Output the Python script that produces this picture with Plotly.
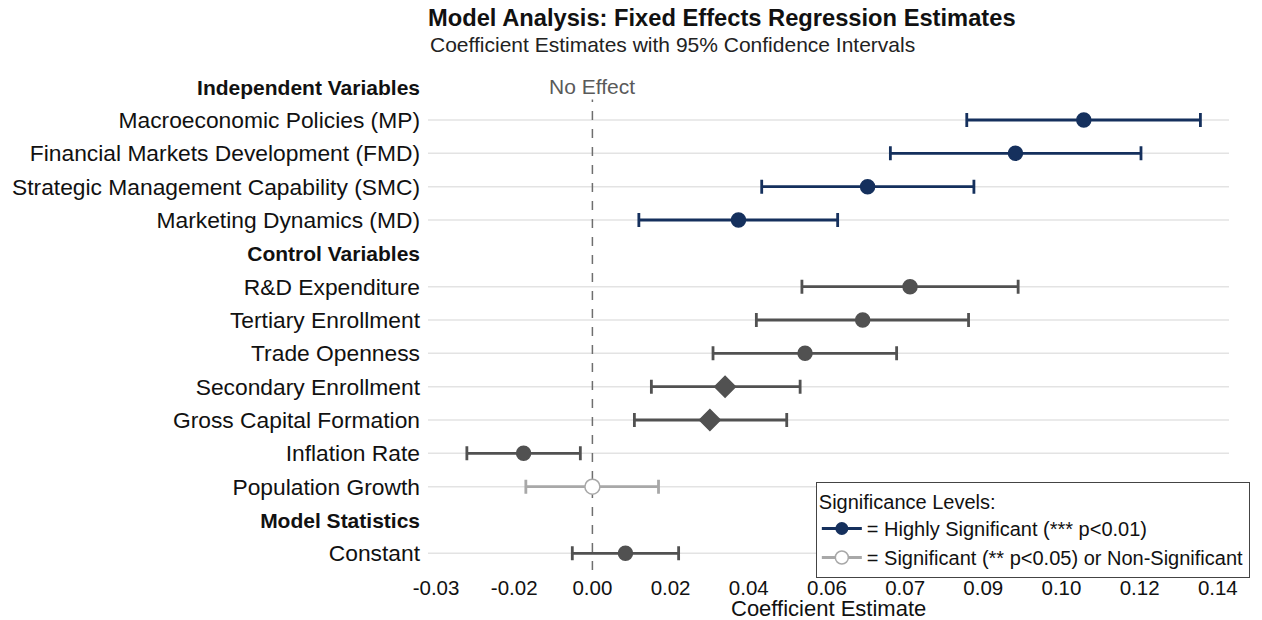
import plotly.graph_objects as go

# ---------------- data ----------------
categories = [
    "Independent Variables",
    "Macroeconomic Policies (MP)",
    "Financial Markets Development (FMD)",
    "Strategic Management Capability (SMC)",
    "Marketing Dynamics (MD)",
    "Control Variables",
    "R&D Expenditure",
    "Tertiary Enrollment",
    "Trade Openness",
    "Secondary Enrollment",
    "Gross Capital Formation",
    "Inflation Rate",
    "Population Growth",
    "Model Statistics",
    "Constant",
]
headers = ["Independent Variables", "Control Variables", "Model Statistics"]

variables = [
    "Macroeconomic Policies (MP)",
    "Financial Markets Development (FMD)",
    "Strategic Management Capability (SMC)",
    "Marketing Dynamics (MD)",
    "R&D Expenditure",
    "Tertiary Enrollment",
    "Trade Openness",
    "Secondary Enrollment",
    "Gross Capital Formation",
    "Inflation Rate",
    "Population Growth",
    "Constant",
]
estimates = [0.1100, 0.0947, 0.0616, 0.0327, 0.0711, 0.0605, 0.0476, 0.0297, 0.0263, -0.0154, 0.0000, 0.0074]
ci_low    = [0.0838, 0.0667, 0.0379, 0.0104, 0.0469, 0.0367, 0.0270, 0.0132, 0.0094, -0.0281, -0.0149, -0.0045]
ci_high   = [0.1361, 0.1228, 0.0854, 0.0549, 0.0953, 0.0842, 0.0681, 0.0465, 0.0435, -0.0027, 0.0148, 0.0193]
groups    = ["high", "high", "high", "high", "ctrl", "ctrl", "ctrl", "ctrl_d", "ctrl_d", "ctrl", "ns", "ctrl"]

tick_vals = [-0.035, -0.0175, 0.0, 0.0175, 0.035, 0.0525, 0.07, 0.0875, 0.105, 0.1225, 0.14]
tick_text = ["-0.03", "-0.02", "0.00", "0.02", "0.04", "0.06", "0.07", "0.09", "0.10", "0.12", "0.14"]

legend_high = "= Highly Significant (*** p<0.01)"
legend_ns = "= Significant (** p<0.05) or Non-Significant"

# ---------------- styles ----------------
NAVY = "#15305d"
DGRAY = "#515151"
LGRAY = "#a8a8a8"
FONT = "Liberation Sans, Arial, sans-serif"

styles = {
    "high":   dict(color=NAVY,  symbol="circle",  size=14, fill=NAVY),
    "ctrl":   dict(color=DGRAY, symbol="circle",  size=14, fill=DGRAY),
    "ctrl_d": dict(color=DGRAY, symbol="diamond", size=16, fill=DGRAY),
    "ns":     dict(color=LGRAY, symbol="circle",  size=15, fill="white"),
}

W, H = 1262, 620
L, R, T, B = 428, 12, 70, 50

fig = go.Figure()

# gridlines only for variable rows
for v in variables:
    fig.add_shape(type="line", xref="paper", x0=0, x1=1, yref="y", y0=v, y1=v,
                  line=dict(color="#e3e3e3", width=1.5), layer="below")

fig.add_vline(x=0, line_dash="dash", line_color="#6e6e6e", line_width=1.5, layer="below")

for g, st in styles.items():
    idx = [i for i, gg in enumerate(groups) if gg == g]
    xs = [estimates[i] for i in idx]
    ys = [variables[i] for i in idx]
    plus = [ci_high[i] - estimates[i] for i in idx]
    minus = [estimates[i] - ci_low[i] for i in idx]
    fig.add_trace(go.Scatter(
        x=xs, y=ys, mode="markers", showlegend=False,
        marker=dict(symbol=st["symbol"], size=st["size"], color=st["fill"],
                    line=dict(color=st["color"], width=1.5)),
        error_x=dict(type="data", symmetric=False, array=plus, arrayminus=minus,
                     color=st["color"], thickness=2.8, width=7),
    ))

# legend entries
fig.add_trace(go.Scatter(
    x=[None], y=[None], mode="lines+markers", name=legend_high,
    line=dict(color=NAVY, width=3),
    marker=dict(symbol="circle", size=13, color=NAVY),
))
fig.add_trace(go.Scatter(
    x=[None], y=[None], mode="lines+markers", name=legend_ns,
    line=dict(color=LGRAY, width=3),
    marker=dict(symbol="circle", size=13, color="white", line=dict(color=LGRAY, width=1.5)),
))

ticktext_y = [
    f"<b><span style='font-size:21px'>{c}</span></b>" if c in headers else c
    for c in categories
]

fig.add_annotation(x=0, y=categories[0], xref="x", yref="y", text="No Effect",
                   showarrow=False, font=dict(size=21, color="#5a5a5a", family=FONT),
                   bgcolor="white")

fig.add_annotation(x=0, y=(H - B - 45) / (H - T - B), xref="paper", yref="paper",
                   xanchor="left", yanchor="middle",
                   text="Coefficient Estimates with 95% Confidence Intervals",
                   showarrow=False, font=dict(size=21, color="#222", family=FONT))

# x axis title
fig.add_annotation(x=0.5, y=(H - B - 608) / (H - T - B), xref="paper", yref="paper",
                   xanchor="center", yanchor="middle", text="Coefficient Estimate",
                   showarrow=False, font=dict(size=22, color="#111", family=FONT))

fig.update_layout(
    width=W, height=H,
    paper_bgcolor="white", plot_bgcolor="white",
    font=dict(family=FONT, color="#111"),
    margin=dict(l=L, r=R, t=T, b=B),
    title=dict(text="<b>Model Analysis: Fixed Effects Regression Estimates</b>",
               x=L / W, xanchor="left", y=1 - 18 / H, yanchor="middle",
               font=dict(size=23.7, color="#111", family=FONT)),
    xaxis=dict(range=[-0.0368, 0.1425], tickvals=tick_vals, ticktext=tick_text,
               showgrid=False, zeroline=False, showline=False, ticks="",
               ticklabelstandoff=3,
               tickfont=dict(size=20.5, color="#111"),
               automargin=False),
    yaxis=dict(type="category", categoryorder="array", categoryarray=categories,
               tickvals=categories, ticktext=ticktext_y, autorange=False,
               range=[len(categories) - 0.5, -0.5],
               showgrid=False, zeroline=False, showline=False, ticks="",
               ticklabelstandoff=7,
               tickfont=dict(size=22.8, color="#111"), automargin=False),
    legend=dict(x=(826 - L) / (W - L - R), y=(H - B - 482) / (H - T - B), xanchor="left", yanchor="top",
                bgcolor="white", bordercolor="#444", borderwidth=1,
                title=dict(text="Significance Levels:", font=dict(size=20, color="#111")),
                font=dict(size=20, color="#111"), itemwidth=40, tracegroupgap=0),
)

fig.write_html("out.html", config={"displayModeBar": False},
               post_script="document.body.style.margin='0';")
